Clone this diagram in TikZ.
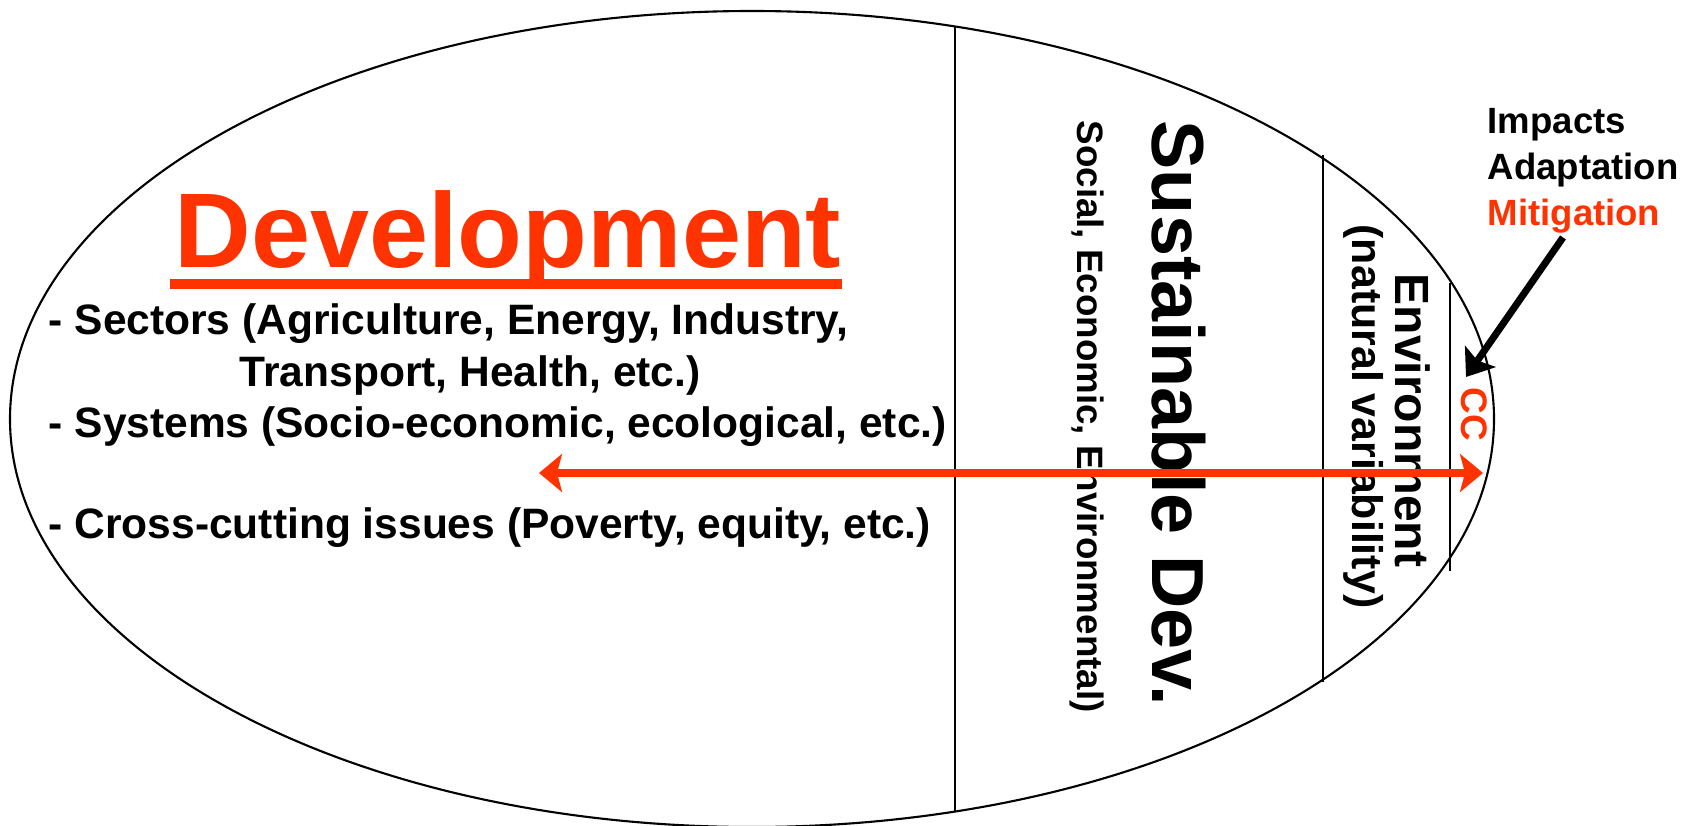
\documentclass[tikz,border=0pt]{standalone}
\usepackage{fontspec}
\setmainfont{Liberation Sans}
\usetikzlibrary{arrows.meta}
\definecolor{rot}{RGB}{255,51,0}
\tikzset{
  zeile/.style={anchor=base west,inner sep=0pt,font=\bfseries\fontsize{12.1}{14}\selectfont},
  senkrecht/.style={rotate=-90,anchor=base west,inner sep=0pt},
  pfeil/.style={line width=2pt,{Stealth[length=0.23cm,width=0.38cm,inset=0.05cm]}-{Stealth[length=0.23cm,width=0.38cm,inset=0.05cm]}}
}
\begin{document}
\begin{tikzpicture}
\useasboundingbox (0,0) rectangle (16.89,8.25);
% Ellipse und Linien
\draw[line width=0.6pt](7.52,4.06) ellipse (7.42 and 4.08);
\draw[line width=0.6pt](9.55,7.98) -- (9.55,0.14);
\draw[line width=0.6pt](13.23,6.70) -- (13.23,1.43);
\draw[line width=0.6pt](14.50,5.42) -- (14.50,2.54);

% Development
\node[rot,anchor=base,inner sep=0pt,font=\bfseries\fontsize{30.2}{36}\selectfont]at(5.08,5.58)(dev){Development};
\draw[rot,line width=3.1pt]([xshift=-0.04cm,yshift=-0.17cm]dev.base west) -- ([yshift=-0.17cm]dev.base east);
\node[zeile]at(0.48,4.91)(sektoren){- Sectors (Agriculture, Energy, Industry,};
\node[zeile]at(2.39,4.39)(transport){Transport, Health, etc.)};
\node[zeile]at(0.48,3.88)(systeme){- Systems (Socio-economic, ecological, etc.)};
\node[zeile]at(0.48,2.87)(querschnitt){- Cross-cutting issues (Poverty, equity, etc.)};

% Senkrechte Beschriftung
\node[senkrecht,font=\bfseries\fontsize{21}{25}\selectfont]at(11.52,7.05)(nachhaltig){Sustainable Dev.};
\node[senkrecht,font=\bfseries\fontsize{10.45}{13}\selectfont]at(10.77,7.05)(dimensionen){Social, Economic, Environmental)};
\node[senkrecht,font=\bfseries\fontsize{13.66}{16}\selectfont]at(13.95,5.52)(umwelt){Environment};
\node[senkrecht,font=\bfseries\fontsize{12.2}{14}\selectfont]at(13.52,6.01)(variabilitaet){(natural variability)};
\node[senkrecht,rot,font=\bfseries\fontsize{10.5}{12}\selectfont]at(14.61,4.38)(cc){CC};

% Bezeichnung rechts oben
\node[zeile,font=\bfseries\fontsize{10.4}{12}\selectfont]at(14.87,6.91)(impacts){Impacts};
\node[zeile,font=\bfseries\fontsize{10.4}{12}\selectfont]at(14.87,6.45)(anpassung){Adaptation};
\node[zeile,rot,font=\bfseries\fontsize{10.4}{12}\selectfont]at(14.87,5.99)(minderung){Mitigation};

% Pfeile
\coordinate (links) at (5.39,3.52);
\coordinate (rechts) at (14.83,3.52);
\coordinate (ziel) at (14.66,4.48);
\draw[rot,pfeil](links) -- (rechts);
\draw[black,line width=2pt,-{Stealth[length=0.25cm,width=0.37cm,inset=0.05cm]}]([xshift=-0.11cm,yshift=-0.03cm]minderung.south) -- (ziel);
\end{tikzpicture}
\end{document}
